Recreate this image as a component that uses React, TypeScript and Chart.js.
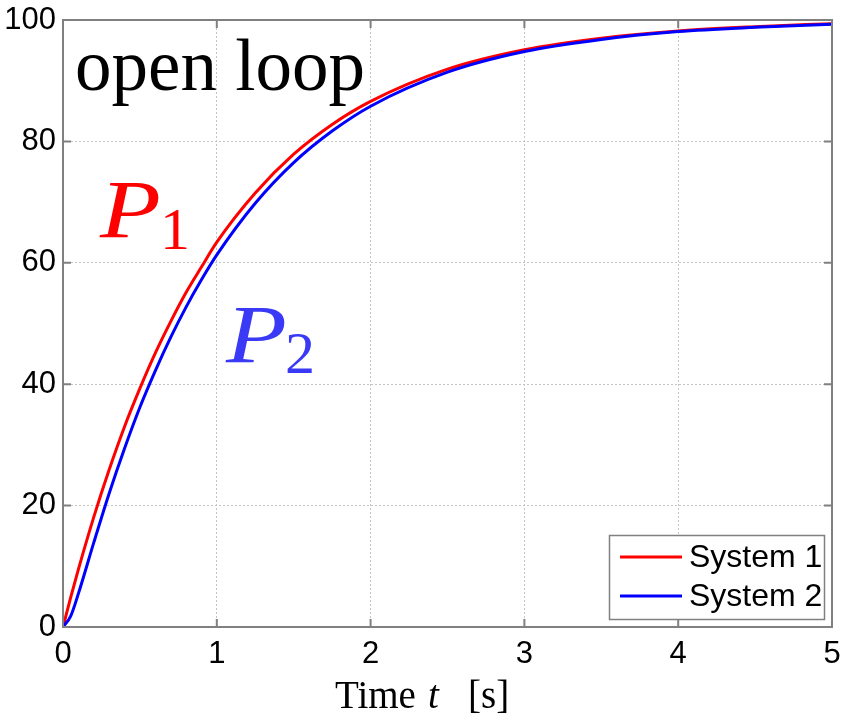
import React, { useEffect, useRef } from "react";
import { Chart, registerables } from "chart.js";

Chart.register(...registerables);

// Step responses of the two systems (open loop), time in seconds
const timeS = [0, 0.05, 0.1, 0.2, 0.3, 0.4, 0.5, 0.6, 0.7, 0.8, 0.9, 1.0, 1.25, 1.5, 1.75, 2.0, 2.5, 3.0, 3.5, 4.0, 4.5, 5.0];
const system1 = [0, 4.9, 9.5, 18.1, 25.9, 33.0, 39.3, 45.1, 50.3, 55.1, 59.3, 63.4, 71.5, 77.9, 82.8, 86.6, 91.9, 95.1, 97.0, 98.2, 98.9, 99.4];
const system2 = [0, 1.8, 5.5, 13.9, 22.0, 29.4, 36.2, 42.2, 47.7, 52.7, 57.2, 61.3, 69.8, 76.5, 81.7, 85.8, 91.4, 94.8, 96.8, 98.1, 98.8, 99.3];

const seriesLabels = ["System 1", "System 2"];
const seriesColors = ["#ff0000", "#0000ff"];

const xTicks = [0, 1, 2, 3, 4, 5];
const yTicks = [0, 20, 40, 60, 80, 100];

const FRAME = "#808080";
const SANS = "'Liberation Sans', Arial, sans-serif";
const SERIF = "'Liberation Serif', 'Times New Roman', serif";

// italic symbol with an upright subscript, e.g. P₁
function drawSymbol(ctx: CanvasRenderingContext2D, sym: string, sub: string, x: number, y: number, subX: number, subY: number, color: string) {
  ctx.fillStyle = color;
  ctx.save();
  ctx.translate(x, y);
  ctx.scale(1.2, 1);
  ctx.font = `italic 83px ${SERIF}`;
  ctx.fillText(sym, 0, 0);
  ctx.restore();
  ctx.font = `60px ${SERIF}`;
  ctx.fillText(sub, subX, subY);
}

const framePlugin = {
  id: "frameAndLegend",
  afterDatasetsDraw(chart: any) {
    const { ctx, chartArea: a, scales } = chart;
    ctx.save();
    // axes box
    ctx.strokeStyle = FRAME;
    ctx.lineWidth = 2;
    ctx.setLineDash([]);
    ctx.strokeRect(a.left, a.top, a.right - a.left, a.bottom - a.top);
    // inward tick marks
    const tl = 8;
    ctx.beginPath();
    xTicks.forEach((v) => {
      const px = scales.x.getPixelForValue(v);
      ctx.moveTo(px, a.bottom);
      ctx.lineTo(px, a.bottom - tl);
      ctx.moveTo(px, a.top);
      ctx.lineTo(px, a.top + tl);
    });
    yTicks.forEach((v) => {
      const py = scales.y.getPixelForValue(v);
      ctx.moveTo(a.left, py);
      ctx.lineTo(a.left + tl, py);
      ctx.moveTo(a.right, py);
      ctx.lineTo(a.right - tl, py);
    });
    ctx.stroke();

    // legend box in lower right corner
    const bw = 215;
    const bh = 84;
    const bx = a.right - 8 - bw;
    const by = a.bottom - 8 - bh;
    ctx.fillStyle = "#ffffff";
    ctx.fillRect(bx, by, bw, bh);
    ctx.strokeStyle = FRAME;
    ctx.lineWidth = 1.5;
    ctx.strokeRect(bx + 0.5, by + 0.5, bw, bh);
    ctx.font = `32px ${SANS}`;
    ctx.textBaseline = "middle";
    ctx.textAlign = "left";
    seriesLabels.forEach((lab, i) => {
      const ly = by + 22 + i * 39;
      ctx.strokeStyle = seriesColors[i];
      ctx.lineWidth = 3;
      ctx.beginPath();
      ctx.moveTo(bx + 11, ly);
      ctx.lineTo(bx + 73, ly);
      ctx.stroke();
      ctx.fillStyle = "#000000";
      ctx.fillText(lab, bx + 80, ly + 1);
    });
    ctx.restore();
  },
  afterDraw(chart: any) {
    const { ctx } = chart;
    ctx.save();
    ctx.textAlign = "left";
    ctx.textBaseline = "alphabetic";

    // title inside the axes
    ctx.fillStyle = "#000000";
    ctx.font = `73px ${SERIF}`;
    ctx.fillText("open loop", 75, 90);

    // curve labels
    drawSymbol(ctx, "P", "1", 100, 237, 160, 249, "#ff0000");
    drawSymbol(ctx, "P", "2", 226, 362, 285, 373, "#3a3af6");

    // x axis title: Time t  [s]
    ctx.fillStyle = "#000000";
    const base = 708;
    ctx.font = `39px ${SERIF}`;
    ctx.fillText("Time", 335, base);
    ctx.font = `italic 39px ${SERIF}`;
    ctx.fillText("t", 428, base);
    ctx.font = `39px ${SERIF}`;
    ctx.fillText("[s]", 468, base);
    ctx.restore();
  },
};

export default function App() {
  const ref = useRef<HTMLCanvasElement | null>(null);

  useEffect(() => {
    if (!ref.current) return;
    const mk = (ys: number[]) => timeS.map((t, i) => ({ x: t, y: ys[i] }));
    const chart = new Chart(ref.current, {
      type: "line",
      data: {
        datasets: [
          {
            label: seriesLabels[0],
            data: mk(system1),
            borderColor: seriesColors[0],
            borderWidth: 3,
            pointRadius: 0,
            cubicInterpolationMode: "monotone",
            order: 1,
          },
          {
            label: seriesLabels[1],
            data: mk(system2),
            borderColor: seriesColors[1],
            borderWidth: 3,
            pointRadius: 0,
            cubicInterpolationMode: "monotone",
            order: 0,
          },
        ],
      },
      options: {
        responsive: false,
        animation: false,
        devicePixelRatio: 1,
        layout: { padding: { top: 20, right: 14, left: 0, bottom: 0 } },
        plugins: {
          legend: { display: false },
          tooltip: { enabled: false },
        },
        scales: {
          x: {
            type: "linear",
            min: 0,
            max: 5,
            afterBuildTicks: (s: any) => {
              s.ticks = xTicks.map((v) => ({ value: v }));
            },
            afterFit: (s: any) => {
              s.height = 94;
              s.paddingLeft = 0;
              s.paddingRight = 0;
            },
            ticks: {
              color: "#000000",
              font: { family: SANS, size: 31 },
              padding: 9,
              maxRotation: 0,
            },
            grid: {
              color: "#c4c4c4",
              lineWidth: 1,
              drawTicks: false,
            },
            border: { display: false, dash: [2, 2] },
          },
          y: {
            type: "linear",
            min: 0,
            max: 100,
            afterBuildTicks: (s: any) => {
              s.ticks = yTicks.map((v) => ({ value: v }));
            },
            afterFit: (s: any) => {
              s.width = 63;
              s.paddingTop = 0;
              s.paddingBottom = 0;
            },
            ticks: {
              color: "#000000",
              font: { family: SANS, size: 31 },
              padding: 7,
            },
            grid: {
              color: "#c4c4c4",
              lineWidth: 1,
              drawTicks: false,
            },
            border: { display: false, dash: [2, 2] },
          },
        },
      },
      plugins: [framePlugin],
    });
    return () => chart.destroy();
  }, []);

  return (
    <div style={{ position: "absolute", left: 0, top: 0, width: 846, height: 721, background: "#ffffff" }}>
      <canvas ref={ref} width={846} height={721} />
    </div>
  );
}
